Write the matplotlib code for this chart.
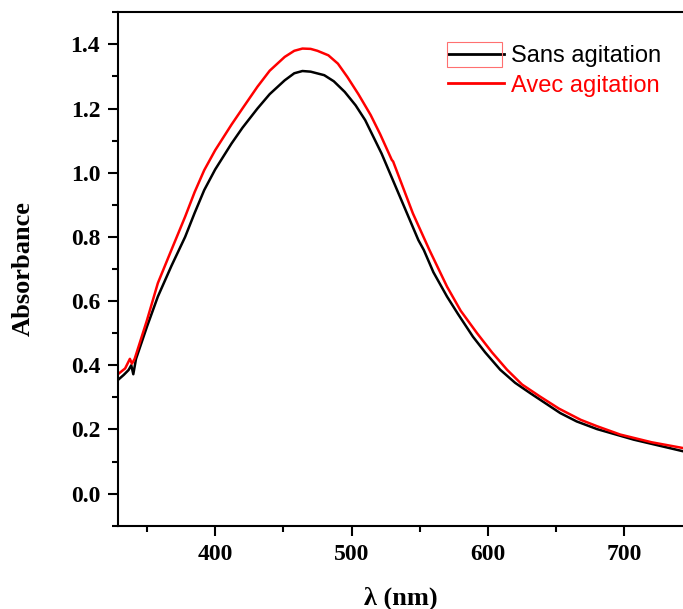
import numpy as np
import matplotlib
matplotlib.use("Agg")
import matplotlib.pyplot as plt
from matplotlib.patches import Rectangle
from matplotlib.ticker import MultipleLocator

# Sans agitation (black)
wl_sans = [329, 333, 336.5, 338.5, 340, 342, 350, 358, 368, 378, 385, 392, 400,
           412, 420, 431, 440, 451, 458, 464, 470, 480, 487, 495, 503, 510,
           522, 533, 549, 553, 560, 570, 578, 589, 598, 609, 620, 631, 653,
           665, 680, 707, 725, 743]
abs_sans = [0.355, 0.37, 0.385, 0.40, 0.372, 0.42, 0.52, 0.614, 0.71, 0.80,
            0.875, 0.946, 1.01, 1.091, 1.14, 1.20, 1.245, 1.288, 1.31, 1.317,
            1.315, 1.304, 1.285, 1.252, 1.21, 1.164, 1.06, 0.95, 0.79, 0.759,
            0.69, 0.614, 0.56, 0.489, 0.44, 0.386, 0.345, 0.313, 0.251, 0.225,
            0.201, 0.168, 0.15, 0.132]

# Avec agitation (red)
wl_avec = [329, 334, 337.5, 339, 341, 350, 358, 368, 378, 385, 392, 400, 412,
           420, 431, 440, 451, 458, 464, 470, 475, 483, 490, 497, 505, 514,
           521, 529.5, 530.5, 545, 557, 570, 580, 592, 603, 614, 625, 638,
           652, 668, 680, 697, 720, 743]
abs_avec = [0.373, 0.39, 0.42, 0.405, 0.42, 0.54, 0.656, 0.76, 0.863, 0.94,
            1.008, 1.07, 1.15, 1.20, 1.268, 1.318, 1.361, 1.38, 1.387, 1.386,
            1.38, 1.366, 1.34, 1.298, 1.245, 1.18, 1.12, 1.04, 1.035, 0.873,
            0.76, 0.645, 0.57, 0.50, 0.44, 0.386, 0.34, 0.303, 0.265, 0.23,
            0.21, 0.184, 0.16, 0.142]

serif = ["Liberation Serif", "DejaVu Serif"]

fig = plt.figure(figsize=(6.83, 6.09), dpi=100)
ax = fig.add_axes([0.1732, 0.1368, 0.8268, 0.8430])

ax.plot(wl_sans, abs_sans, color="black", lw=1.8, label="Sans agitation")
ax.plot(wl_avec, abs_avec, color="red", lw=1.8, label="Avec agitation")

ax.set_xlim(329, 743)
ax.set_ylim(-0.1, 1.5)
ax.xaxis.set_major_locator(MultipleLocator(100))
ax.xaxis.set_minor_locator(MultipleLocator(50))
ax.yaxis.set_major_locator(MultipleLocator(0.2))
ax.yaxis.set_minor_locator(MultipleLocator(0.1))

for side in ["left", "bottom", "top"]:
    ax.spines[side].set_linewidth(1.5)
ax.spines["right"].set_visible(False)

ax.tick_params(which="major", direction="out", length=7, width=1.5, labelsize=17, pad=6)
ax.tick_params(which="minor", direction="out", length=4, width=1.5)
for lab in ax.get_xticklabels():
    lab.set_fontfamily(serif)
    lab.set_fontweight("bold")
ax.set_yticklabels([f"{t:.1f}" for t in ax.get_yticks()], fontfamily=serif, fontweight="bold")

ax.set_xlabel("λ (nm)", fontfamily=serif, fontweight="bold", fontsize=19, labelpad=16)
ax.set_ylabel("Absorbance", fontfamily=serif, fontweight="bold", fontsize=19, labelpad=26)

leg = ax.legend(loc="upper right", bbox_to_anchor=(0.962, 0.936), frameon=False,
                prop={"family": "Liberation Sans", "size": 17},
                borderaxespad=0, borderpad=0,
                handlelength=2.4, handletextpad=0.3, labelspacing=0.32)
for txt, line in zip(leg.get_texts(), leg.get_lines()):
    txt.set_color(line.get_color())
    line.set_linewidth(2)

# selection box around the first legend handle
fig.patches.append(Rectangle((447 / 683, 1 - 67 / 609), 55 / 683, 25 / 609,
                             transform=fig.transFigure, fill=False,
                             edgecolor="#ff7070", lw=0.8))

fig.savefig("out.png", dpi=100)
